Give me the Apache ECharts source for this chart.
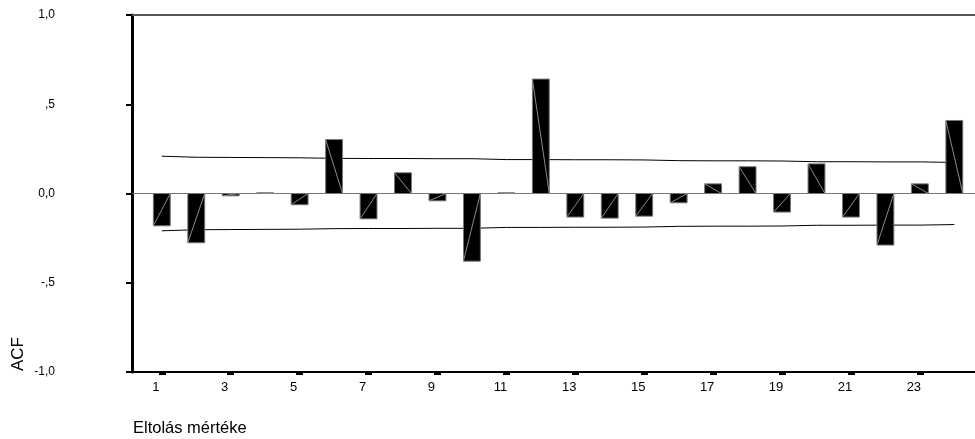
<!DOCTYPE html>
<html><head><meta charset="utf-8">
<script src="https://cdn.jsdelivr.net/npm/echarts@6/dist/echarts.min.js"></script>
<style>html,body{margin:0;padding:0;background:#fff}#c{width:975px;height:439px}</style>
</head><body><div id="c"></div>
<script>
const lags = [1,2,3,4,5,6,7,8,9,10,11,12,13,14,15,16,17,18,19,20,21,22,23,24];
const acf = [-0.181,-0.276,-0.013,0.004,-0.063,0.302,-0.142,0.116,-0.041,-0.379,0.004,0.641,
             -0.132,-0.138,-0.127,-0.052,0.054,0.150,-0.104,0.166,-0.132,-0.289,0.054,0.409];
const upperLimit = [0.209,0.203,0.202,0.201,0.200,0.197,0.196,0.196,0.195,0.195,0.190,0.190,
                    0.189,0.189,0.188,0.184,0.183,0.183,0.182,0.178,0.178,0.177,0.177,0.174];
const lowerLimit = [-0.209,-0.203,-0.202,-0.201,-0.200,-0.197,-0.196,-0.196,-0.195,-0.195,-0.190,-0.190,
                    -0.189,-0.189,-0.188,-0.184,-0.183,-0.183,-0.182,-0.178,-0.178,-0.177,-0.177,-0.174];
const xTickLabels = [1,3,5,7,9,11,13,15,17,19,21,23];
const yTicks = [-1,-0.5,0,0.5,1];
const yTickLabels = ['-1,0','-,5','0,0',',5','1,0'];
const yTitle = 'ACF';
const xTitle = 'Eltolás mértéke';

const FONT = '"Liberation Sans", Arial, sans-serif';
const chart = echarts.init(document.getElementById('c'), null, {renderer:'canvas'});
const option = {
  animation: false,
  backgroundColor: '#fff',
  grid: {left:132, right:0, top:15, bottom:67, containLabel:false},
  xAxis: {
    type:'value', min:0.135, max:24.6,
    axisLine:{show:true, onZero:false, lineStyle:{color:'#000', width:2}},
    axisTick:{show:true, customValues:xTickLabels, length:3, lineStyle:{color:'#000', width:7}},
    axisLabel:{show:true, customValues:xTickLabels, margin:9, padding:[0,12,0,0],
               fontFamily:FONT, fontSize:13, color:'#000'},
    splitLine:{show:false}
  },
  yAxis: {
    type:'value', min:-1, max:1, interval:0.5,
    axisLine:{show:true, onZero:false, lineStyle:{color:'#000', width:3}},
    axisTick:{show:true, length:6, lineStyle:{color:'#000', width:2}},
    axisLabel:{margin:77, fontFamily:FONT, fontSize:12, color:'#000',
               formatter: v => { const i = yTicks.findIndex(t => Math.abs(t - v) < 1e-9); return i >= 0 ? yTickLabels[i] : ''; }},
    splitLine:{show:false}
  },
  series: [
    {
      type:'line', name:'upper', z:2, symbol:'none', silent:true,
      data: lags.map((l,i)=>[l, upperLimit[i]]),
      lineStyle:{color:'#000', width:1},
      markLine:{silent:true, symbol:'none', label:{show:false},
        data:[{yAxis:1, lineStyle:{color:'#555', width:2, type:'solid'}},
              {yAxis:0, lineStyle:{color:'#777', width:1, type:'solid'}}]}
    },
    {
      type:'line', name:'lower', z:2, symbol:'none', silent:true,
      data: lags.map((l,i)=>[l, lowerLimit[i]]),
      lineStyle:{color:'#000', width:1}
    },
    {
      type:'custom', name:'ACF', z:5, silent:true,
      data: lags.map((l,i)=>[l, acf[i]]),
      encode:{x:0, y:1},
      renderItem: (params, api) => {
        const x = api.value(0), v = api.value(1);
        const p0 = api.coord([x, v]);
        const p1 = api.coord([x, 0]);
        const w = api.size([0.49, 0])[0];
        const left = p0[0] - w/2, right = p0[0] + w/2;
        const top = Math.min(p0[1], p1[1]);
        const h = Math.abs(p1[1] - p0[1]);
        return {type:'group', children:[
          {type:'rect', shape:{x:left, y:top, width:w, height:h}, style:{fill:'#000', stroke:'#777', lineWidth:1}},
          {type:'line', shape:{x1:left, y1:p0[1], x2:right, y2:p1[1]}, style:{stroke:'#8a8a8a', lineWidth:1}}
        ]};
      }
    }
  ],
  graphic: [
    {type:'text', x:18, y:354, rotation:Math.PI/2,
     style:{text:yTitle, font:'17px ' + FONT, fill:'#000', textAlign:'center', textVerticalAlign:'middle'}},
    {type:'text', x:133, y:428,
     style:{text:xTitle, font:'16.5px ' + FONT, fill:'#000', textAlign:'left', textVerticalAlign:'middle'}}
  ]
};
chart.setOption(option);
</script>
</body></html>
